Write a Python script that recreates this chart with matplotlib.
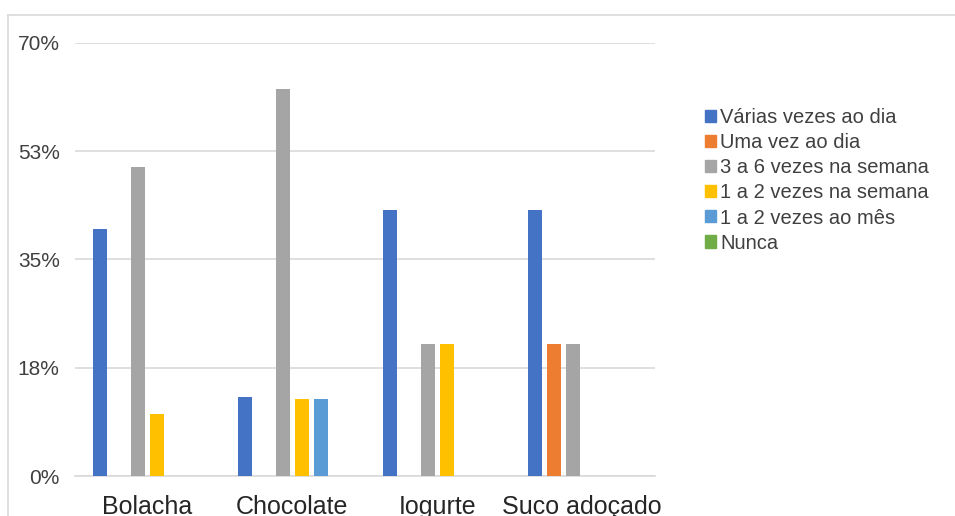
import numpy as np
import matplotlib.pyplot as plt
from matplotlib.patches import Rectangle
from matplotlib.lines import Line2D

plt.rcParams['font.family'] = ['Liberation Sans', 'DejaVu Sans']

categories = ['Bolacha', 'Chocolate', 'Iogurte', 'Suco adoçado']
series_names = ['Várias vezes ao dia', 'Uma vez ao dia', '3 a 6 vezes na semana',
                '1 a 2 vezes na semana', '1 a 2 vezes ao mês', 'Nunca']
colors = ['#4472C4', '#ED7D31', '#A5A5A5', '#FFC000', '#5B9BD5', '#70AD47']

# percentages per series, in category order
varias_dia = [40.0, 12.8, 43.0, 43.0]
uma_dia = [0.0, 0.0, 0.0, 21.4]
semana_3_6 = [50.0, 62.5, 21.4, 21.4]
semana_1_2 = [10.0, 12.5, 21.4, 0.0]
mes_1_2 = [0.0, 12.5, 0.0, 0.0]
nunca = [0.0, 0.0, 0.0, 0.0]
values = [varias_dia, uma_dia, semana_3_6, semana_1_2, mes_1_2, nunca]

ytick_vals = [0, 17.5, 35, 52.5, 70]
ytick_labels = ['0%', '18%', '35%', '53%', '70%']

fig = plt.figure(figsize=(9.55, 5.16), dpi=100)
ax = fig.add_axes([0.0785, 0.0775, 0.607, 0.8392])

x = np.arange(len(categories))
slot = 0.131
width = 0.097
for i, (name, vals) in enumerate(zip(series_names, values)):
    ax.bar(x + (i - 2.5) * slot, vals, width, color=colors[i], label=name, zorder=3)

ax.set_xlim(-0.5, 3.5)
ax.set_ylim(0, 70)
ax.set_yticks(ytick_vals)
ax.set_yticklabels(ytick_labels, fontsize=15, color='#404040')
ax.set_xticks(x)
ax.set_xticklabels(categories, fontsize=18, color='#262626')
ax.tick_params(length=0)
ax.tick_params(axis='y', pad=11)
ax.tick_params(axis='x', pad=14)
ax.grid(axis='y', color='#d9d9d9', linewidth=1.2, zorder=0)
for s in ['top', 'right', 'left']:
    ax.spines[s].set_visible(False)
ax.spines['bottom'].set_color('#d9d9d9')
ax.spines['bottom'].set_linewidth(1.2)

# chart frame (top and left edges)
fig.add_artist(Line2D([8 / 955, 1.0], [1 - 14.5 / 516, 1 - 14.5 / 516],
                      transform=fig.transFigure, color='#d9d9d9', linewidth=1.2))
fig.add_artist(Line2D([8 / 955, 8 / 955], [0, 1 - 14.5 / 516],
                      transform=fig.transFigure, color='#d9d9d9', linewidth=1.2))

handles = [Rectangle((0, 0), 1, 1, color=c) for c in colors]
fig.legend(handles, series_names, loc='upper left', bbox_to_anchor=(0.738, 0.79),
           frameon=False, fontsize=14.5, handlelength=0.55, handleheight=0.55,
           handletextpad=0.2, labelspacing=0.3, borderaxespad=0, borderpad=0,
           labelcolor='#404040')

fig.savefig('out.png', dpi=100)
